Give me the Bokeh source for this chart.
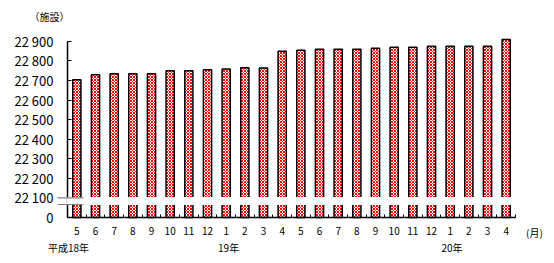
from bokeh.plotting import figure
from bokeh.models import (ColumnDataSource, FixedTicker, Range1d, BoxAnnotation, Label)
from bokeh.embed import file_html
from bokeh.resources import INLINE

# ---- data ----
months = ["5", "6", "7", "8", "9", "10", "11", "12",
          "1", "2", "3", "4", "5", "6", "7", "8", "9", "10", "11", "12",
          "1", "2", "3", "4"]
values = [22703, 22729, 22734, 22734, 22734, 22749, 22749, 22754,
          22759, 22765, 22764, 22849, 22854, 22859, 22859, 22859, 22864,
          22869, 22869, 22874, 22874, 22874, 22874, 22909]
year_labels = ["平成18年", "19年", "20年"]
year_pos = [0.05, 8.63, 20.6]
y_ticks = [22100, 22200, 22300, 22400, 22500, 22600, 22700, 22800, 22900]
ZERO_POS = 22000   # position on the broken scale where 0 is drawn
unit_label = "（施設）"
month_unit = "(月)"

FONT = "Noto Sans CJK JP"

# layout geometry (pixels)
W, H = 554, 263
X0_PX, XPX = 67.0, 18.667      # x=0 pixel, px per category
Y0_PX, YPX = 217.0, 0.1958     # ZERO_POS pixel, px per unit

def xd(px):
    return (px - X0_PX) / XPX

def yd(py):
    return ZERO_POS + (Y0_PX - py) / YPX

x = [i + 0.5 for i in range(len(values))]
src = ColumnDataSource(dict(x=x, top=values, bottom=[ZERO_POS] * len(values)))

p = figure(width=W, height=H, output_backend="svg", toolbar_location=None,
           x_range=Range1d(xd(0), xd(W)), y_range=Range1d(yd(H), yd(0)),
           min_border_left=0, min_border_right=0, min_border_top=0,
           min_border_bottom=0)
p.outline_line_color = None
p.xgrid.visible = False
p.ygrid.visible = False
p.background_fill_color = "white"

p.vbar(x="x", top="top", bottom="bottom", width=0.44, source=src,
       fill_color="white", hatch_pattern="diagonal_cross", hatch_color="#ff0000",
       hatch_scale=3, hatch_weight=1, line_color="black", line_width=1.5)

# y axis
ya = p.yaxis[0]
ya.fixed_location = 0
ya.ticker = FixedTicker(ticks=[ZERO_POS] + y_ticks)
overrides = {ZERO_POS: "0"}
for t in y_ticks:
    s = str(t)
    overrides[t] = s[:2] + " " + s[2:]
ya.major_label_overrides = overrides
ya.bounds = (ZERO_POS, 22900)
ya.major_tick_in = 4
ya.major_tick_out = 0
ya.minor_tick_line_color = None
ya.major_label_standoff = 14
ya.major_label_text_font = FONT
ya.major_label_text_font_size = "13px"
ya.major_label_text_color = "black"
ya.axis_line_color = "black"
ya.axis_line_width = 1.5

# x axis
xa = p.xaxis[0]
xa.fixed_location = ZERO_POS
xa.bounds = (0, 24)
xa.ticker = FixedTicker(ticks=x, minor_ticks=[i for i in range(1, 25)])
xa.major_label_overrides = {xx: m for xx, m in zip(x, months)}
xa.major_tick_line_color = None
xa.major_tick_in = 0
xa.major_tick_out = 0
xa.minor_tick_in = 3
xa.minor_tick_out = 0
xa.minor_tick_line_color = "black"
xa.major_label_standoff = 9
xa.major_label_text_font = FONT
xa.major_label_text_font_size = "10px"
xa.major_label_text_color = "black"
xa.axis_line_color = "black"
xa.axis_line_width = 1.5

# axis break
p.add_layout(BoxAnnotation(left=xd(66), right=24.5, bottom=yd(204.6), top=yd(196.5),
                           fill_color="white", fill_alpha=1.0, line_color=None))
for py in (197.3, 204.0):
    p.add_layout(BoxAnnotation(left=xd(57), right=xd(83), bottom=yd(py), top=yd(py),
                               fill_alpha=0, line_color="#808080", line_width=1.2,
                               line_alpha=1.0))

# year labels
for t, xp in zip(year_labels, year_pos):
    p.add_layout(Label(x=xp, y=yd(247), text=t, text_font=FONT, text_font_size="10px",
                       text_align="center", text_baseline="middle", text_color="black"))
p.add_layout(Label(x=xd(534), y=yd(232), text=month_unit, text_font=FONT,
                   text_font_size="10px", text_align="center", text_baseline="middle",
                   text_color="black"))
p.add_layout(Label(x=xd(49), y=yd(15.7), text=unit_label, text_font=FONT,
                   text_font_size="10px", text_align="center", text_baseline="middle",
                   text_color="black"))

open("out.html", "w").write(file_html(p, INLINE))
